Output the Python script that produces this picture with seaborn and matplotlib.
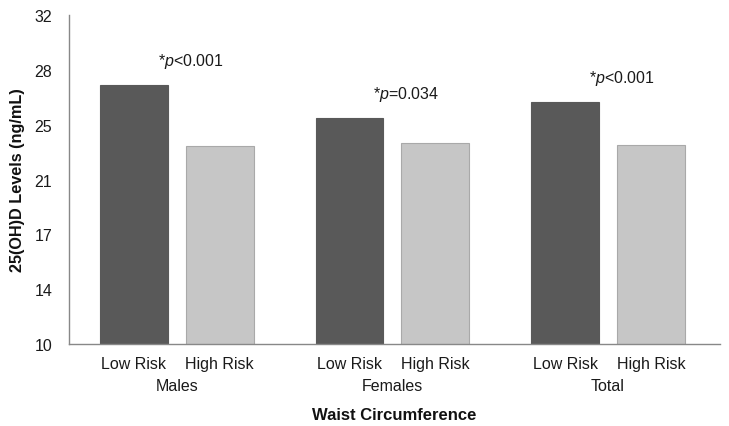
import matplotlib
matplotlib.use("Agg")
import matplotlib.pyplot as plt
import seaborn as sns
import numpy as np
import pandas as pd

groups = ["Males", "Females", "Total"]
risks = ["Low Risk", "High Risk"]
low_values = [27.34, 25.11, 26.16]
high_values = [23.22, 23.42, 23.31]
p_labels = [r"*$\mathit{p}$<0.001", r"*$\mathit{p}$=0.034", r"*$\mathit{p}$<0.001"]
ytick_labels = ["10", "14", "17", "21", "25", "28", "32"]

sns.set_style("white")
plt.rcParams['font.family'] = ['Liberation Sans', 'DejaVu Sans']
plt.rcParams['mathtext.fontset'] = 'custom'
plt.rcParams['mathtext.rm'] = 'Liberation Sans'
plt.rcParams['mathtext.it'] = 'Liberation Sans:italic'

rows = []
for g, lo, hi in zip(groups, low_values, high_values):
    rows.append({"group": g, "risk": risks[0], "value": lo})
    rows.append({"group": g, "risk": risks[1], "value": hi})
df = pd.DataFrame(rows)

fig = plt.figure(figsize=(7.29, 4.27), dpi=100)
ax = fig.add_axes([0.0947, 0.192, 0.893, 0.7705])

sns.barplot(data=df, x="group", y="value", hue="risk", order=groups, hue_order=risks,
            palette={"Low Risk": "#595959", "High Risk": "#c6c6c6"},
            width=0.796, gap=0.21, ax=ax, legend=False, errorbar=None, saturation=1)

edge_cols = ["#595959", "#a9a9a9"]
centers = []
sub_labels = []
for cont, ec, rk in zip(ax.containers, edge_cols, risks):
    for bar in cont:
        bar.set_edgecolor(ec)
        bar.set_linewidth(0.8)
        centers.append(bar.get_x() + bar.get_width() / 2)
        sub_labels.append(rk)

ax.set_ylim(10, 32)
ax.set_xlim(-0.5, 2.52)
ax.set_yticks(np.linspace(10, 32, 7))
ax.set_yticklabels(ytick_labels, fontsize=11.5, color="#1a1a1a")
ax.tick_params(axis="y", length=0, pad=12)

ax.set_xticks(range(len(groups)))
ax.set_xticklabels(groups, fontsize=11.5, color="#1a1a1a")
ax.tick_params(axis="x", which="major", length=0, pad=24.5)
ax.set_xticks(centers, minor=True)
ax.set_xticklabels(sub_labels, minor=True, fontsize=11.5, color="#1a1a1a")
ax.tick_params(axis="x", which="minor", length=0, pad=8.5)

for i, (lo, lab) in enumerate(zip(low_values, p_labels)):
    ax.text(i + 0.065, lo + 1.65, lab, ha="center", va="center", fontsize=11.5, color="#1a1a1a")

ax.set_xlabel("Waist Circumference", fontsize=12, fontweight="bold", labelpad=10, color="#111111")
ax.set_ylabel("25(OH)D Levels (ng/mL)", fontsize=11.7, fontweight="bold", color="#111111")
ax.yaxis.set_label_coords(-0.067, 0.5)

sns.despine(ax=ax, top=True, right=True)
for s in ["left", "bottom"]:
    ax.spines[s].set_color("#888888")
    ax.spines[s].set_linewidth(1.0)

fig.savefig("out.png", dpi=100)
